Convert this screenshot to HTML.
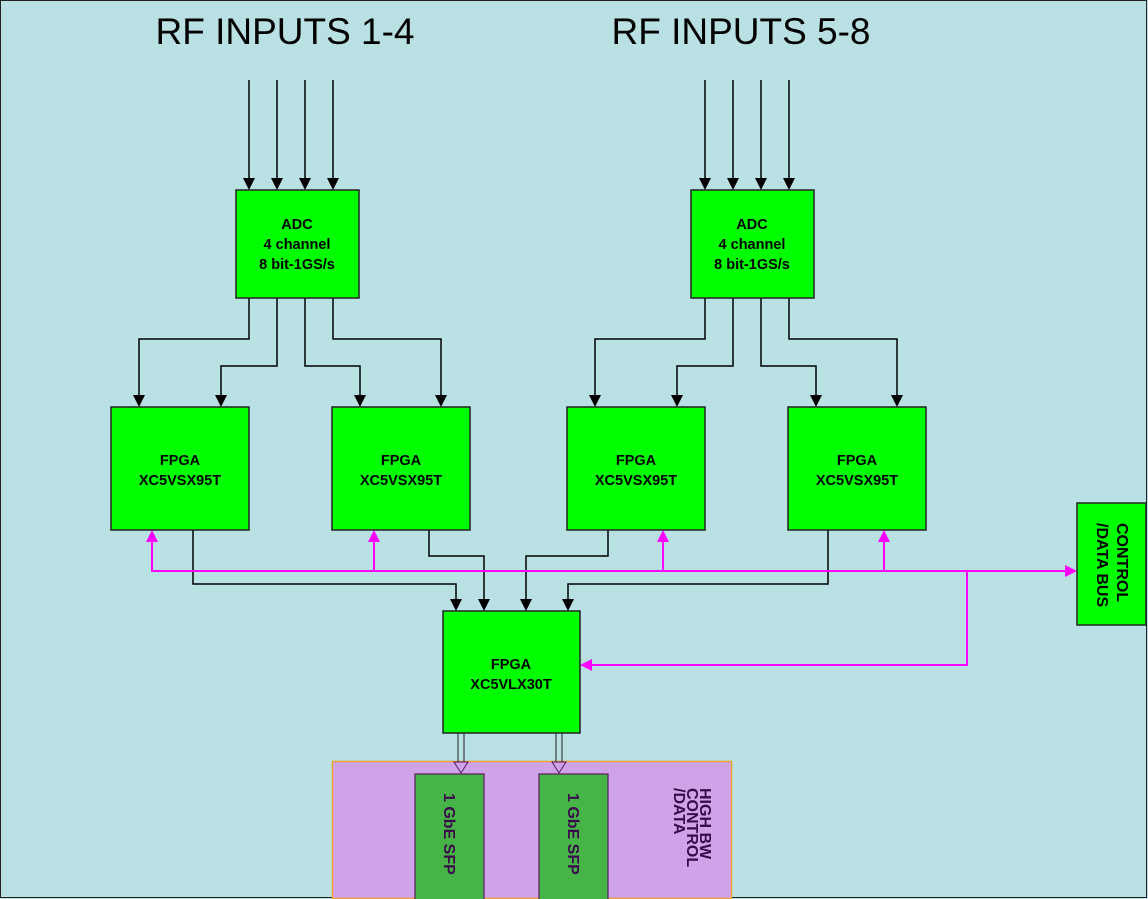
<!DOCTYPE html>
<html><head><meta charset="utf-8"><style>html,body{margin:0;padding:0;background:#b9e0e3}svg{display:block}</style></head>
<body>
<svg width="1148" height="899" viewBox="0 0 1148 899" xmlns="http://www.w3.org/2000/svg" font-family="Liberation Sans, Arial, sans-serif">
<rect x="0.5" y="0.5" width="1146" height="897" fill="#b9e0e3" stroke="#222" stroke-width="1"/>
<text x="285" y="44" font-size="37" text-anchor="middle">RF INPUTS 1-4</text>
<text x="741" y="44" font-size="37" text-anchor="middle">RF INPUTS 5-8</text>
<g stroke="#000" stroke-width="1.5" fill="none">
<path d="M249,80V178M277,80V178M305,80V178M333,80V178M705,80V178M733,80V178M761,80V178M789,80V178"/>
<path d="M249,298V339H139V395M277,298V366H221V395M305,298V366H360V395M333,298V339H441V395"/>
<path d="M705,298V339H595V395M733,298V366H677V395M761,298V366H816V395M789,298V339H897V395"/>
<path d="M193,530V584H456V599M429,530V556H484V599M608,530V556H526V599M828,530V584H568V599"/>
</g>
<g fill="#000">
<path d="M243,178h12l-6,12zM271,178h12l-6,12zM299,178h12l-6,12zM327,178h12l-6,12z"/>
<path d="M699,178h12l-6,12zM727,178h12l-6,12zM755,178h12l-6,12zM783,178h12l-6,12z"/>
<path d="M133,395h12l-6,12zM215,395h12l-6,12zM354,395h12l-6,12zM435,395h12l-6,12z"/>
<path d="M589,395h12l-6,12zM671,395h12l-6,12zM810,395h12l-6,12zM891,395h12l-6,12z"/>
<path d="M450,599h12l-6,12zM478,599h12l-6,12zM520,599h12l-6,12zM562,599h12l-6,12z"/>
</g>
<g stroke="#ff00ff" stroke-width="2" fill="none">
<path d="M152,542V571H1066M374,542V571M663,542V571M884,542V571M967,571V665H592"/>
</g>
<g fill="#ff00ff">
<path d="M146,542h12l-6,-12zM368,542h12l-6,-12zM657,542h12l-6,-12zM878,542h12l-6,-12z"/>
<path d="M1065,565v12l12,-6zM592,659v12l-12,-6z"/>
</g>
<g fill="#00ff00" stroke="#222" stroke-width="1.5">
<rect x="236" y="190" width="123" height="108"/>
<rect x="691" y="190" width="123" height="108"/>
<rect x="111" y="407" width="138" height="123"/>
<rect x="332" y="407" width="138" height="123"/>
<rect x="567" y="407" width="138" height="123"/>
<rect x="788" y="407" width="138" height="123"/>
<rect x="443" y="611" width="137" height="122"/>
<rect x="1077" y="503" width="69" height="122"/>
</g>
<g font-size="14.5" text-anchor="middle" fill="#000" font-weight="bold" stroke="#000" stroke-width="0">
<text x="297" y="229">ADC</text><text x="297" y="249">4 channel</text><text x="297" y="269">8 bit-1GS/s</text>
<text x="752" y="229">ADC</text><text x="752" y="249">4 channel</text><text x="752" y="269">8 bit-1GS/s</text>
<text x="180" y="465">FPGA</text><text x="180" y="485">XC5VSX95T</text>
<text x="401" y="465">FPGA</text><text x="401" y="485">XC5VSX95T</text>
<text x="636" y="465">FPGA</text><text x="636" y="485">XC5VSX95T</text>
<text x="857" y="465">FPGA</text><text x="857" y="485">XC5VSX95T</text>
<text x="511" y="669">FPGA</text><text x="511" y="689">XC5VLX30T</text>
<text transform="translate(1117,523) rotate(90)" text-anchor="start" font-size="16">CONTROL</text>
<text transform="translate(1097,523) rotate(90)" text-anchor="start" font-size="16">/DATA BUS</text>
</g>
<rect x="332.5" y="761.5" width="399" height="137" fill="#cfa3e8" stroke="#f0a030" stroke-width="1.5"/>
<g fill="#46b446" stroke="#5a1a5a" stroke-width="1.2">
<rect x="415" y="774" width="69" height="126"/>
<rect x="539" y="774" width="69" height="126"/>
</g>
<g stroke="#222" stroke-width="1" fill="none">
<path d="M458,733V762M464,733V762M556,733V762M562,733V762"/>
</g>
<g stroke="#5a1a5a" stroke-width="1" fill="#cfa3e8">
<path d="M454,762h14l-7,11z"/><path d="M552,762h14l-7,11z"/>
</g>
<g font-size="16" fill="#3a0a4a" font-weight="bold" text-anchor="start">
<text transform="translate(444,793) rotate(90)">1 GbE SFP</text>
<text transform="translate(568,793) rotate(90)">1 GbE SFP</text>
<text transform="translate(700,788) rotate(90)">HIGH BW</text>
<text transform="translate(687,788) rotate(90)">CONTROL</text>
<text transform="translate(674,788) rotate(90)">/DATA</text>
</g>
</svg>
</body></html>
